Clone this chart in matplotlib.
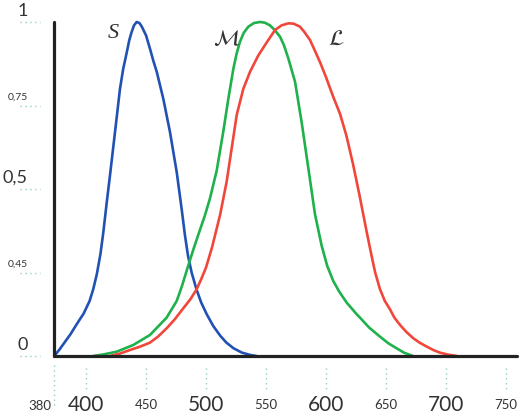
"""Cone sensitivity curves (S, M, L) redrawn with matplotlib."""

import matplotlib
matplotlib.use("Agg")
import matplotlib.pyplot as plt
from matplotlib import transforms

# wavelength (nm) and normalised response
S_WL = [373.5, 378, 383, 387, 392, 398, 403, 406, 409, 412, 414.4, 417.2, 420,
        424.2, 428.3, 431, 434, 436, 438, 440, 442.2, 444.5, 446.5, 450, 453.3,
        456, 459, 464.4, 470, 475.6, 479.7, 482.5, 485, 488, 492, 496, 500.6, 506,
        512, 517, 523, 530, 537, 542]
S_VAL = [0.0, 0.02, 0.045, 0.065, 0.094, 0.127, 0.165, 0.20, 0.245, 0.305, 0.37,
         0.458, 0.542, 0.672, 0.80, 0.86, 0.91, 0.945, 0.97, 0.99, 1.0, 0.997,
         0.986, 0.96, 0.92, 0.885, 0.85, 0.77, 0.67, 0.55, 0.44, 0.36, 0.30, 0.25,
         0.20, 0.16, 0.125, 0.09, 0.06, 0.04, 0.023, 0.01, 0.003, 0.0]

M_WL = [406, 415, 425.6, 439.4, 453.3, 467.2, 475.6, 480, 484.7, 490, 495, 499,
        503.3, 508.9, 514.4, 518.6, 522.8, 525.5, 528.3, 531.5, 535.3, 540, 545,
        549, 553.3, 557.5, 561.7, 565, 568.6, 574.2, 579.7, 585.3, 590.8, 596.4,
        601, 606, 611, 617.2, 625.6, 628.3, 636, 645, 652, 658.9, 665, 672.5]
M_VAL = [0.0, 0.005, 0.013, 0.033, 0.063, 0.115, 0.165, 0.21, 0.265, 0.325,
         0.378, 0.42, 0.472, 0.555, 0.672, 0.77, 0.86, 0.905, 0.941, 0.968, 0.986,
         0.997, 1.0, 0.998, 0.99, 0.975, 0.956, 0.93, 0.891, 0.821, 0.70, 0.562,
         0.425, 0.33, 0.27, 0.225, 0.193, 0.16, 0.125, 0.115, 0.085, 0.058, 0.038,
         0.023, 0.01, 0.0]

L_WL = [420, 428, 436.7, 445, 453.3, 460, 467.2, 474, 481.1, 487, 492.2, 496, 500,
        505, 511.7, 517.2, 521.4, 525.6, 531.1, 536.7, 543.6, 550.8, 557.5, 563,
        568.6, 573, 578.3, 582, 586.7, 590, 595, 600, 605.6, 611.7, 617, 622.5,
        628, 634, 638, 641, 645, 649, 653.3, 657, 661.7, 667, 672.8, 678, 684,
        690, 695, 702, 709]
L_VAL = [0.0, 0.007, 0.018, 0.028, 0.04, 0.058, 0.083, 0.11, 0.143, 0.17, 0.20,
         0.23, 0.265, 0.325, 0.422, 0.522, 0.622, 0.722, 0.80, 0.851, 0.90, 0.94,
         0.976, 0.99, 0.996, 0.995, 0.986, 0.97, 0.946, 0.92, 0.88, 0.835, 0.78,
         0.725, 0.66, 0.575, 0.48, 0.37, 0.30, 0.25, 0.20, 0.165, 0.14, 0.115,
         0.093, 0.072, 0.053, 0.04, 0.028, 0.017, 0.01, 0.004, 0.0]

X_MIN, X_MAX = 373.3, 759.2
XTICK_POS = [X_MIN, 400, 450, 500, 550, 600, 650, 700, 750]
XTICK_LABELS = ["380", "400", "450", "500", "550", "600", "650", "700", "750"]
XTICK_BIG = [False, True, False, True, False, True, False, True, False]

YTICK_POS = [1.0, 0.75, 0.5, 0.25, 0.0]
YTICK_LABELS = ["1", "0,75", "0,5", "0,45", "0"]
YTICK_BIG = [True, False, True, False, True]

BLUE = "#2151b3"
GREEN = "#1fb14c"
RED = "#f1473b"
DOTS = "#8fcfc6"
TEXT = "#333333"

plt.rcParams["mathtext.fontset"] = "stix"
NUM_FONT = ["Lato", "DejaVu Sans"]

fig = plt.figure(figsize=(5.27, 4.18), dpi=100)
ax = fig.add_axes([54 / 527, 1 - 356 / 418, 463 / 527, 334 / 418])

for wl, val, col in [(S_WL, S_VAL, BLUE), (M_WL, M_VAL, GREEN), (L_WL, L_VAL, RED)]:
    ax.plot(wl, val, color=col, lw=1.9, solid_joinstyle="round",
            solid_capstyle="round", clip_on=False, zorder=3)

ax.set_xlim(X_MIN, X_MAX)
ax.set_ylim(0, 1)
ax.set_xticks([])
ax.set_yticks([])
for side in ("top", "right"):
    ax.spines[side].set_visible(False)
for side in ("left", "bottom"):
    ax.spines[side].set_linewidth(2.3)
    ax.spines[side].set_color("#222222")
    ax.spines[side].set_capstyle("round")
    ax.spines[side].set_zorder(4)

# dotted tick marks and hand-placed labels
xtr = transforms.blended_transform_factory(ax.transData, ax.transAxes)
ytr = transforms.blended_transform_factory(ax.transAxes, ax.transData)
px_x = 1 / 463
px_y = 1 / 334

for pos, lab, big in zip(XTICK_POS, XTICK_LABELS, XTICK_BIG):
    if pos == X_MIN:
        ax.plot([pos, pos], [-9 * px_y, -50 * px_y], transform=xtr, color=DOTS,
                lw=1, ls=(0, (1, 2.5)), clip_on=False)
        ax.text(pos - 3 / 1.2, -50 * px_y, lab, transform=xtr, ha="right",
                va="center", fontsize=9.5, color=TEXT, family=NUM_FONT)
        continue
    ax.plot([pos, pos], [-12 * px_y, -34 * px_y], transform=xtr, color=DOTS,
            lw=1, ls=(0, (1, 2.5)), clip_on=False)
    ax.text(pos, -49 * px_y, lab, transform=xtr, ha="center", va="center",
            fontsize=15 if big else 9.5, color=TEXT, family=NUM_FONT)

for pos, lab, big in zip(YTICK_POS, YTICK_LABELS, YTICK_BIG):
    ax.plot([-34 * px_x, -14 * px_x], [pos, pos], transform=ytr, color=DOTS,
            lw=1, ls=(0, (1, 2.5)), clip_on=False)
    off = 11 if big else 8.5
    ax.text(-26 * px_x, pos + off * px_y, lab, transform=ytr, ha="right",
            va="center", fontsize=13 if big else 7.5, color=TEXT,
            family=NUM_FONT)

# curve names
ax.text(422.5, 0.967, "S", fontsize=16, style="italic", color=TEXT,
        family=["Liberation Serif", "DejaVu Serif"], ha="center", va="center")
ax.text(517.5, 0.949, r"$\mathcal{M}$", fontsize=16, color=TEXT,
        ha="center", va="center")
ax.text(608.3, 0.949, r"$\mathcal{L}$", fontsize=16, color=TEXT,
        ha="center", va="center")

fig.savefig("out.png", dpi=100)
plt.close(fig)
